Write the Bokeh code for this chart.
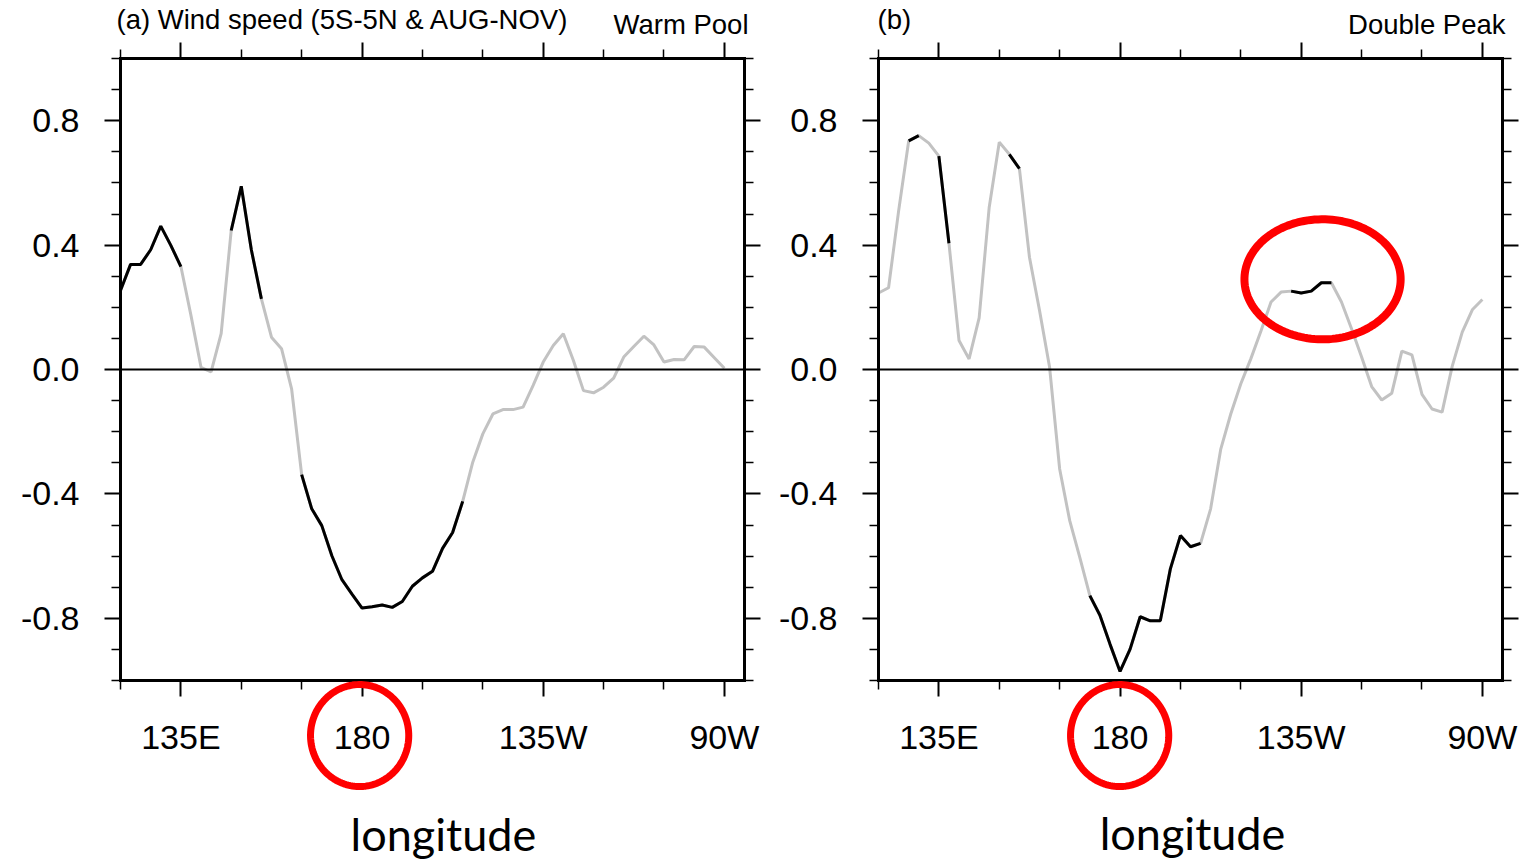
import numpy as np
from bokeh.plotting import figure
from bokeh.layouts import row
from bokeh.models import (FixedTicker, Label, PolyAnnotation, LinearAxis,
                          Range1d, PrintfTickFormatter)
from bokeh.embed import file_html
from bokeh.resources import INLINE

# ---------------- data ----------------
lon = [120.0, 122.5, 125.0, 127.5, 130.0, 132.5, 135.0, 137.5, 140.0, 142.5,
       145.0, 147.5, 150.0, 152.5, 155.0, 157.5, 160.0, 162.5, 165.0, 167.5,
       170.0, 172.5, 175.0, 177.5, 180.0, 182.5, 185.0, 187.5, 190.0, 192.5,
       195.0, 197.5, 200.0, 202.5, 205.0, 207.5, 210.0, 212.5, 215.0, 217.5,
       220.0, 222.5, 225.0, 227.5, 230.0, 232.5, 235.0, 237.5, 240.0, 242.5,
       245.0, 247.5, 250.0, 252.5, 255.0, 257.5, 260.0, 262.5, 265.0, 267.5,
       270.0]

warm_pool = [0.254, 0.338, 0.338, 0.385, 0.461, 0.399, 0.331, 0.174, 0.007, -0.008,
             0.115, 0.447, 0.589, 0.385, 0.227, 0.104, 0.067, -0.062, -0.338, -0.448,
             -0.502, -0.599, -0.676, -0.722, -0.767, -0.763, -0.757, -0.765, -0.746, -0.697,
             -0.670, -0.649, -0.575, -0.524, -0.424, -0.298, -0.207, -0.143, -0.129, -0.129,
             -0.121, -0.051, 0.024, 0.077, 0.115, 0.029, -0.068, -0.075, -0.057, -0.028,
             0.040, 0.074, 0.107, 0.079, 0.024, 0.032, 0.031, 0.074, 0.072, 0.038,
             0.004]
warm_pool_sig = [1, 1, 1, 1, 1, 1, 1, 0, 0, 0,
                 0, 1, 1, 1, 1, 0, 0, 0, 1, 1,
                 1, 1, 1, 1, 1, 1, 1, 1, 1, 1,
                 1, 1, 1, 1, 1, 0, 0, 0, 0, 0,
                 0, 0, 0, 0, 0, 0, 0, 0, 0, 0,
                 0, 0, 0, 0, 0, 0, 0, 0, 0, 0,
                 0]

double_peak = [0.246, 0.263, 0.510, 0.735, 0.752, 0.728, 0.686, 0.406, 0.093, 0.034,
               0.166, 0.522, 0.731, 0.692, 0.646, 0.361, 0.190, 0.007, -0.320, -0.486,
               -0.604, -0.727, -0.790, -0.883, -0.971, -0.899, -0.795, -0.808, -0.808, -0.641,
               -0.534, -0.570, -0.559, -0.448, -0.257, -0.143, -0.046, 0.035, 0.124, 0.217,
               0.249, 0.252, 0.246, 0.252, 0.279, 0.279, 0.217, 0.131, 0.040, -0.055,
               -0.098, -0.076, 0.059, 0.047, -0.080, -0.127, -0.137, 0.010, 0.120, 0.192,
               0.225]
double_peak_sig = [0, 0, 0, 1, 1, 0, 1, 1, 0, 0,
                   0, 0, 0, 1, 1, 0, 0, 0, 0, 0,
                   0, 1, 1, 1, 1, 1, 1, 1, 1, 1,
                   1, 1, 1, 0, 0, 0, 0, 0, 0, 0,
                   0, 1, 1, 1, 1, 1, 0, 0, 0, 0,
                   0, 0, 0, 0, 0, 0, 0, 0, 0, 0,
                   0]

x_major = [135, 180, 225, 270]
x_labels = ["135E", "180", "135W", "90W"]
x_minor = [120, 150, 165, 195, 210, 240, 255]
y_major = [-0.8, -0.4, 0.0, 0.4, 0.8]
y_minor = [-1.0, -0.9, -0.7, -0.6, -0.5, -0.3, -0.2, -0.1,
           0.1, 0.2, 0.3, 0.5, 0.6, 0.7, 0.9, 1.0]

titles_left = ["(a) Wind speed (5S-5N & AUG-NOV)", "(b)"]
titles_right = ["Warm Pool", "Double Peak"]
xlabel = "longitude"

# ---------------- layout constants (pixels) ----------------
BOX_X0, BOX_X1 = 120.0, 275.0      # plotted box, longitude
BOX_Y0, BOX_Y1 = -1.0, 1.0         # plotted box, value
BOX_W, BOX_H = 624, 622            # box size in px
BOX_TOP = 58                       # px from canvas top to box top
CANVAS_H = 860
RIGHT_PAD = 22
KX = BOX_W / (BOX_X1 - BOX_X0)     # px per degree
KY = BOX_H / (BOX_Y1 - BOX_Y0)     # px per unit

TICK_FONT = "Liberation Sans"


def ellipse_ring(cx, cy, rx, ry, n=140):
    t = np.linspace(0, 2 * np.pi, n)
    return list(cx + rx * np.cos(t)), list(cy + ry * np.sin(t))


def style_axis(ax, ticker, show_labels, standoff):
    ax.ticker = ticker
    ax.axis_line_color = "black"
    ax.axis_line_width = 3
    ax.axis_line_cap = "square"
    ax.major_tick_in = 0
    ax.major_tick_out = 16
    ax.minor_tick_in = 0
    ax.minor_tick_out = 9
    ax.major_tick_line_width = 2
    ax.minor_tick_line_width = 1.5
    ax.major_tick_line_color = "black"
    ax.minor_tick_line_color = "black"
    ax.major_label_text_font = TICK_FONT
    ax.major_label_text_font_size = "34px"
    ax.major_label_text_color = "black" if show_labels else None
    ax.major_label_standoff = standoff


def make_panel(vals, sig, tleft, tright, left_pad, title_pos, lab_pos, rings):
    width = left_pad + BOX_W + RIGHT_PAD
    x_start = BOX_X0 - left_pad / KX
    x_end = x_start + width / KX
    y_end = BOX_Y1 + BOX_TOP / KY
    y_start = y_end - CANVAS_H / KY

    p = figure(width=width, height=CANVAS_H,
               x_range=Range1d(x_start, x_end), y_range=Range1d(y_start, y_end),
               output_backend="svg", toolbar_location=None,
               min_border=0, min_border_left=0, min_border_right=0,
               min_border_top=0, min_border_bottom=0)
    p.title.visible = False
    p.grid.visible = False
    p.outline_line_color = None

    xt = FixedTicker(ticks=x_major, minor_ticks=x_minor)
    yt = FixedTicker(ticks=y_major, minor_ticks=y_minor)

    bottom = p.below[0]
    left = p.left[0]
    top = LinearAxis()
    right = LinearAxis()
    zero = LinearAxis()
    p.add_layout(top, "above")
    p.add_layout(right, "right")
    p.add_layout(zero, "below")

    style_axis(bottom, xt, True, 21)
    style_axis(top, xt, False, 0)
    style_axis(left, yt, True, 25)
    style_axis(right, yt, False, 0)
    for ax in [bottom, top]:
        ax.bounds = (BOX_X0, BOX_X1)
        ax.major_label_overrides = {k: v for k, v in zip(x_major, x_labels)}
    for ax in [left, right]:
        ax.bounds = (BOX_Y0, BOX_Y1)
        ax.formatter = PrintfTickFormatter(format="%.1f")
    bottom.fixed_location = BOX_Y0
    top.fixed_location = BOX_Y1
    left.fixed_location = BOX_X0
    right.fixed_location = BOX_X1

    # zero reference line drawn as a bare axis across the box
    zero.fixed_location = 0
    zero.bounds = (BOX_X0, BOX_X1)
    zero.ticker = FixedTicker(ticks=[])
    zero.axis_line_color = "black"
    zero.axis_line_width = 2
    zero.major_tick_line_color = None
    zero.minor_tick_line_color = None
    zero.major_label_text_color = None

    black = [v if s else float("nan") for v, s in zip(vals, sig)]
    p.line(lon, vals, line_color="#c2c2c2", line_width=3)
    p.line(lon, black, line_color="black", line_width=3)

    (tlx, tly), (trx, try_) = title_pos
    p.add_layout(Label(x=tlx, y=tly, text=tleft, text_font=TICK_FONT,
                       text_font_size="27.5px", text_align="left",
                       text_baseline="alphabetic", text_color="black"))
    p.add_layout(Label(x=trx, y=try_, text=tright, text_font=TICK_FONT,
                       text_font_size="27.5px", text_align="right",
                       text_baseline="alphabetic", text_color="black"))
    p.add_layout(Label(x=lab_pos[0], y=lab_pos[1], text=xlabel, text_font="Lato",
                       text_font_size="45px", text_align="center",
                       text_baseline="alphabetic", text_color="black"))

    for (cx, cy, rx, ry, lw) in rings:
        xs, ys = ellipse_ring(cx, cy, rx, ry)
        p.add_layout(PolyAnnotation(xs=xs, ys=ys, fill_color=None, fill_alpha=0,
                                    line_color="#ff0000", line_alpha=1, line_width=lw))
    return p


# annotation anchors (data units)
p1 = make_panel(warm_pool, warm_pool_sig, titles_left[0], titles_right[0], 120,
                ((119.0, 1.125), (276.0, 1.109)), (200.2, -1.495),
                [(179.4, -1.177, 12.2, 0.164, 7)])
p2 = make_panel(double_peak, double_peak_sig, titles_left[1], titles_right[1], 112,
                ((119.75, 1.125), (275.75, 1.109)), (198.0, -1.490),
                [(179.9, -1.177, 12.2, 0.164, 7), (230.3, 0.290, 19.4, 0.193, 8)])

layout = row(p1, p2)
open("out.html", "w").write(file_html(layout, INLINE))
